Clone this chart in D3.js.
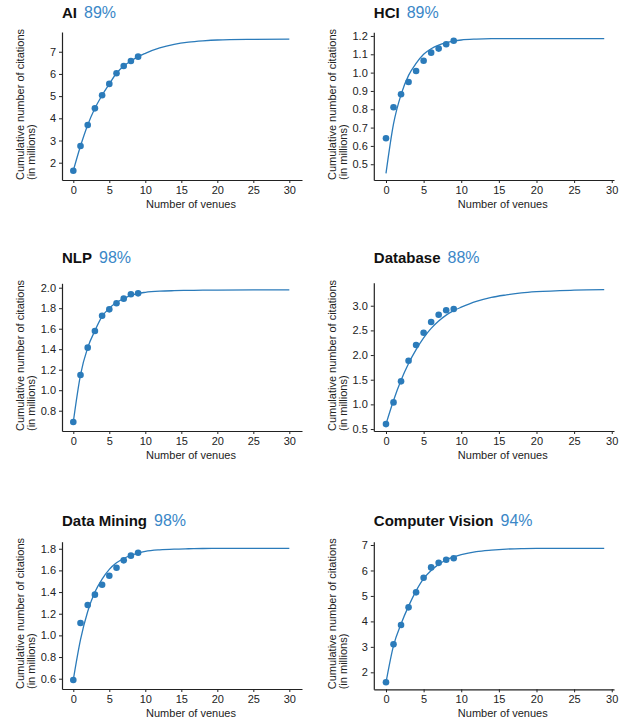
<!DOCTYPE html>
<html>
<head>
<meta charset="utf-8">
<script src="https://cdn.jsdelivr.net/npm/d3@7"></script>
<style>
  body { margin: 0; background: #fff; }
  svg { font-family: "Liberation Sans", Arial, Helvetica, sans-serif; }
  .tick text { font-size: 11px; fill: #222; }
</style>
</head>
<body>
<div id="chart"></div>
<script>
// panel titles and their share figure
var titles = ["AI", "HCI", "NLP", "Database", "Data Mining", "Computer Vision"];
var shares = ["89%", "89%", "98%", "88%", "98%", "94%"];

// observed points (venues 0..9), millions of citations
var venues = [0, 1, 2, 3, 4, 5, 6, 7, 8, 9];
var aiPoints  = [1.64, 2.75, 3.70, 4.45, 5.04, 5.55, 6.03, 6.36, 6.58, 6.78];
var hciPoints = [0.642, 0.811, 0.882, 0.949, 1.009, 1.065, 1.109, 1.131, 1.155, 1.174];
var nlpPoints = [0.69, 1.148, 1.415, 1.578, 1.727, 1.789, 1.848, 1.893, 1.936, 1.945];
var dbPoints  = [0.60, 1.04, 1.467, 1.885, 2.204, 2.453, 2.67, 2.818, 2.907, 2.933];
var dmPoints  = [0.588, 1.114, 1.28, 1.376, 1.468, 1.551, 1.625, 1.693, 1.736, 1.763];
var cvPoints  = [1.607, 3.099, 3.857, 4.552, 5.141, 5.714, 6.12, 6.30, 6.42, 6.48];

// fitted curve
var curveX30 = [0, 1, 2, 3, 4, 5, 6, 7, 8, 9, 10, 12, 14, 16, 18, 20, 25, 30];
var curveX29 = [0, 1, 2, 3, 4, 5, 6, 7, 8, 9, 10, 12, 14, 16, 18, 20, 25, 29];
var aiCurve  = [1.64, 2.75, 3.70, 4.45, 5.04, 5.55, 6.03, 6.36, 6.58, 6.78, 6.93, 7.17, 7.33, 7.43, 7.49, 7.53, 7.56, 7.57];
var hciCurve = [0.45, 0.72, 0.88, 0.985, 1.05, 1.10, 1.13, 1.15, 1.163, 1.172, 1.178, 1.183, 1.185, 1.185, 1.185, 1.185, 1.185, 1.185];
var nlpCurve = [0.69, 1.15, 1.415, 1.58, 1.72, 1.80, 1.855, 1.895, 1.925, 1.945, 1.955, 1.966, 1.971, 1.974, 1.976, 1.977, 1.978, 1.978];
var dbCurve  = [0.60, 1.08, 1.49, 1.83, 2.11, 2.35, 2.54, 2.69, 2.81, 2.90, 2.97, 3.09, 3.17, 3.22, 3.26, 3.285, 3.315, 3.325];
var dmCurve  = [0.59, 0.96, 1.22, 1.40, 1.52, 1.61, 1.67, 1.71, 1.74, 1.76, 1.775, 1.79, 1.797, 1.80, 1.802, 1.803, 1.803, 1.803];
var cvCurve  = [1.60, 3.05, 3.90, 4.60, 5.20, 5.68, 6.00, 6.24, 6.41, 6.53, 6.62, 6.74, 6.80, 6.84, 6.86, 6.865, 6.87, 6.87];

// y tick values per panel
var aiTicks  = [2, 3, 4, 5, 6, 7];
var hciTicks = [0.5, 0.6, 0.7, 0.8, 0.9, 1.0, 1.1, 1.2];
var nlpTicks = [0.8, 1.0, 1.2, 1.4, 1.6, 1.8, 2.0];
var dbTicks  = [0.5, 1.0, 1.5, 2.0, 2.5, 3.0];
var dmTicks  = [0.6, 0.8, 1.0, 1.2, 1.4, 1.6, 1.8];
var cvTicks  = [2, 3, 4, 5, 6, 7];
var xTicks   = [0, 5, 10, 15, 20, 25, 30];

var blue = "#2b7bba";
var shareBlue = "#3a87c7";

// layout of each panel (pixels) and its axis domains
var panels = [
  {pts: aiPoints,  cx: curveX30, cy: aiCurve,  ticks: aiTicks,  fmt: "d",
   left: 62, right: 302, top: 32, bottom: 180, titleY: 17.5, xd: [-1.57, 31.76], yd: [1.22, 7.89]},
  {pts: hciPoints, cx: curveX29, cy: hciCurve, ticks: hciTicks, fmt: ".1f",
   left: 373.8, right: 614, top: 32.3, bottom: 180, titleY: 17.5, xd: [-1.62, 30.3], yd: [0.414, 1.22]},
  {pts: nlpPoints, cx: curveX30, cy: nlpCurve, ticks: nlpTicks, fmt: ".1f",
   left: 62, right: 302, top: 283.3, bottom: 431, titleY: 263, xd: [-1.57, 31.76], yd: [0.602, 2.043]},
  {pts: dbPoints,  cx: curveX29, cy: dbCurve,  ticks: dbTicks,  fmt: ".1f",
   left: 373.8, right: 614, top: 282.7, bottom: 431, titleY: 263, xd: [-1.62, 30.3], yd: [0.46, 3.467]},
  {pts: dmPoints,  cx: curveX30, cy: dmCurve,  ticks: dmTicks,  fmt: ".1f",
   left: 62, right: 302, top: 541.7, bottom: 689, titleY: 526, xd: [-1.57, 31.76], yd: [0.505, 1.865]},
  {pts: cvPoints,  cx: curveX29, cy: cvCurve,  ticks: cvTicks,  fmt: "d",
   left: 373.8, right: 614, top: 541.7, bottom: 689.3, titleY: 526, xd: [-1.62, 30.3], yd: [1.333, 7.13]}
];

var svg = d3.select("#chart").append("svg")
  .attr("width", 625)
  .attr("height", 719);

panels.forEach(function(p, i) {
  var x = d3.scaleLinear().domain(p.xd).range([p.left, p.right]);
  var y = d3.scaleLinear().domain(p.yd).range([p.bottom, p.top]);
  var g = svg.append("g");

  // title + share
  var t = g.append("text")
    .attr("x", p.left)
    .attr("y", p.titleY)
    .style("font-size", "15px")
    .style("font-weight", "bold")
    .style("fill", "#111")
    .text(titles[i]);
  var w = t.node().getComputedTextLength();
  g.append("text")
    .attr("x", p.left + w + 7)
    .attr("y", p.titleY)
    .style("font-size", "16px")
    .style("fill", shareBlue)
    .text(shares[i]);

  // axes
  var xAxis = g.append("g")
    .attr("transform", "translate(0," + p.bottom + ")")
    .call(d3.axisBottom(x).tickValues(xTicks).tickSize(3).tickPadding(3).tickSizeOuter(0));
  var yAxis = g.append("g")
    .attr("transform", "translate(" + p.left + ",0)")
    .call(d3.axisLeft(y).tickValues(p.ticks).tickFormat(d3.format(p.fmt)).tickSize(3).tickPadding(3).tickSizeOuter(0));
  [xAxis, yAxis].forEach(function(a) {
    a.select(".domain").attr("stroke", "#222").attr("stroke-width", 1.2);
    a.selectAll(".tick line").attr("stroke", "#222");
  });

  // axis labels
  g.append("text")
    .attr("x", p.left + 129)
    .attr("y", p.bottom + 28)
    .attr("text-anchor", "middle")
    .style("font-size", "11px")
    .style("fill", "#222")
    .text("Number of venues");
  var yl = g.append("text")
    .attr("transform", "translate(" + (p.left - 38) + "," + p.bottom + ") rotate(-90)")
    .style("font-size", "11px")
    .style("fill", "#222");
  yl.append("tspan").attr("x", 0).attr("y", 0).text("Cumulative number of citations");
  yl.append("tspan").attr("x", 0).attr("y", 11).text("(in millions)");

  // fitted curve
  var curveData = p.cx.map(function(v, k) { return {x: v, y: p.cy[k]}; });
  g.append("path")
    .datum(curveData)
    .attr("fill", "none")
    .attr("stroke", blue)
    .attr("stroke-width", 1.3)
    .attr("d", d3.line()
      .curve(d3.curveMonotoneX)
      .x(function(d) { return x(d.x); })
      .y(function(d) { return y(d.y); }));

  // observed points
  g.selectAll("circle")
    .data(venues)
    .enter()
    .append("circle")
    .attr("cx", function(d) { return x(d); })
    .attr("cy", function(d, k) { return y(p.pts[k]); })
    .attr("r", 3.3)
    .attr("fill", blue);
});
</script>
</body>
</html>
